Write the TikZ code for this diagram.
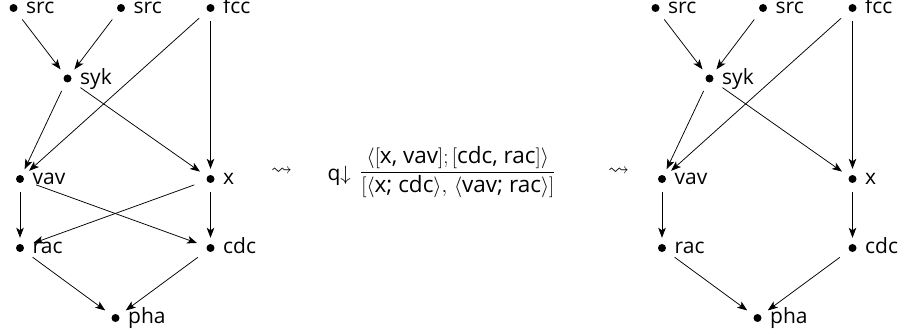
\documentclass[tikz,border=0pt]{standalone}
\usepackage{amsmath,amssymb}
\usepackage{fontspec}
\setmainfont{Open Sans}
\usetikzlibrary{arrows.meta,shapes.geometric}
\tikzset{
 dotmark/.style={circle,fill=black,inner sep=0pt,minimum size=8pt},
 port/.style={ellipse,inner sep=0pt,minimum width=30pt,minimum height=20pt},
 lbl/.style={anchor=base west,inner sep=0pt,xshift=12.5pt,yshift=-5.6pt,font=\fontsize{21}{25}\selectfont},
 arr/.style={-{Stealth[length=10pt,width=7.5pt,inset=2.5pt]},line width=0.75pt,shorten <=3pt},
 txt/.style={inner sep=0pt,font=\fontsize{21}{25}\selectfont}
}
\begin{document}
\begin{tikzpicture}[x=1pt,y=-1pt]
\useasboundingbox (0,0) rectangle (907,334);
\foreach \p/\dx in {L/0,R/642}{
 \foreach \n/\t/\px/\py in {src1/src/13.5/8, src2/src/121/8, fcc/fcc/210.5/8, syk/syk/67.5/78.5, vav/vav/20/179, x/x/210.5/179, rac/rac/20/248, cdc/cdc/210.5/248, pha/pha/115.5/318}{
  \node[dotmark] (\p\n d) at (\px+\dx,\py) {};
  \node[port] (\p\n) at (\px+\dx,\py) {};
  \node[lbl] (\p\n t) at (\px+\dx,\py) {\t};
 }
 \draw[arr] (\p src1) -- (\p syk);
 \draw[arr] (\p src2) -- (\p syk);
 \draw[arr] (\p fcc) -- (\p vav);
 \draw[arr] (\p fcc) -- (\p x);
 \draw[arr] (\p syk) -- (\p vav);
 \draw[arr] (\p syk) -- (\p x);
 \draw[arr] (\p vav) -- (\p rac);
 \draw[arr] (\p x) -- (\p cdc);
 \draw[arr] (\p rac) -- (\p pha);
 \draw[arr] (\p cdc) -- (\p pha);
}
\draw[arr] (Lvav) -- (Lcdc);
\draw[arr] (Lx) -- (Lrac);
\node[txt] (sq1) at (281.5,172) {$\rightsquigarrow$};
\node[txt] (sq2) at (618.5,172) {$\rightsquigarrow$};
\node[txt,anchor=base east] (qd) at (351,180) {q$\downarrow$};
\node[txt,anchor=base west,font=\fontsize{22.5}{27}\selectfont] (frac) at (360,177.6) {$\dfrac{\langle[\text{x, vav}];[\text{cdc, rac}]\rangle}{[\langle\text{x; cdc}\rangle,\,\langle\text{vav; rac}\rangle]}$};
\end{tikzpicture}
\end{document}
